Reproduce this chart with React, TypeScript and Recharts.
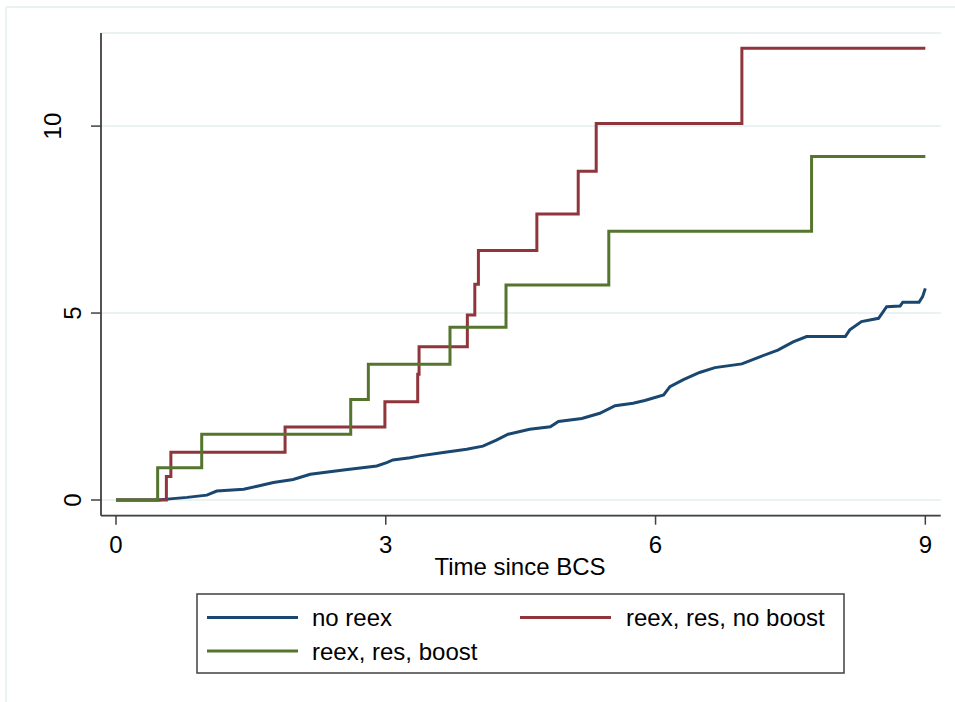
import React from 'react';
import { LineChart, Line, XAxis, YAxis, CartesianGrid } from 'recharts';

const FONT = '"Liberation Sans", Arial, Helvetica, sans-serif';

const seriesNames = ['no reex', 'reex, res, no boost', 'reex, res, boost'];
const seriesColors = ['#1a476f', '#90353b', '#55752f'];
const xTicks = [0, 3, 6, 9];
const yTicks = [0, 5, 10];
const xTitle = 'Time since BCS';

const noReex = [
  { t: 0, v: 0 }, { t: 0.47, v: 0 }, { t: 0.6, v: 0.03 }, { t: 0.79, v: 0.07 },
  { t: 1.01, v: 0.13 }, { t: 1.12, v: 0.24 }, { t: 1.42, v: 0.29 }, { t: 1.57, v: 0.37 },
  { t: 1.75, v: 0.47 }, { t: 1.97, v: 0.55 }, { t: 2.16, v: 0.69 }, { t: 2.53, v: 0.8 },
  { t: 2.9, v: 0.91 }, { t: 3.01, v: 1.0 }, { t: 3.08, v: 1.07 }, { t: 3.27, v: 1.13 },
  { t: 3.38, v: 1.18 }, { t: 3.64, v: 1.27 }, { t: 3.9, v: 1.36 }, { t: 4.08, v: 1.44 },
  { t: 4.23, v: 1.6 }, { t: 4.36, v: 1.76 }, { t: 4.6, v: 1.89 }, { t: 4.83, v: 1.96 },
  { t: 4.92, v: 2.1 }, { t: 5.18, v: 2.18 }, { t: 5.38, v: 2.32 }, { t: 5.55, v: 2.52 },
  { t: 5.75, v: 2.59 }, { t: 5.88, v: 2.66 }, { t: 6.09, v: 2.81 }, { t: 6.16, v: 3.03 },
  { t: 6.31, v: 3.22 }, { t: 6.49, v: 3.41 }, { t: 6.66, v: 3.54 }, { t: 6.96, v: 3.64 },
  { t: 7.16, v: 3.83 }, { t: 7.36, v: 4.01 }, { t: 7.53, v: 4.23 }, { t: 7.68, v: 4.37 },
  { t: 8.11, v: 4.37 }, { t: 8.16, v: 4.55 }, { t: 8.29, v: 4.77 }, { t: 8.48, v: 4.86 },
  { t: 8.57, v: 5.17 }, { t: 8.72, v: 5.19 }, { t: 8.75, v: 5.29 }, { t: 8.93, v: 5.29 },
  { t: 8.97, v: 5.44 }, { t: 9.0, v: 5.66 },
];

const reexNoBoost = [
  { t: 0, v: 0 }, { t: 0.56, v: 0.63 }, { t: 0.61, v: 1.28 }, { t: 1.88, v: 1.95 },
  { t: 2.99, v: 2.63 }, { t: 3.355, v: 3.36 }, { t: 3.37, v: 4.1 }, { t: 3.907, v: 4.95 },
  { t: 3.99, v: 5.77 }, { t: 4.03, v: 6.67 }, { t: 4.68, v: 7.65 }, { t: 5.14, v: 8.79 },
  { t: 5.34, v: 10.07 }, { t: 6.96, v: 12.08 }, { t: 9.0, v: 12.08 },
];

const reexBoost = [
  { t: 0, v: 0 }, { t: 0.463, v: 0.86 }, { t: 0.953, v: 1.76 }, { t: 2.61, v: 2.69 },
  { t: 2.806, v: 3.63 }, { t: 3.714, v: 4.62 }, { t: 4.337, v: 5.75 }, { t: 5.48, v: 7.19 },
  { t: 7.735, v: 9.19 }, { t: 9.0, v: 9.19 },
];

const AXIS = '#404040';

const XTick = (props: any) => {
  const { x, payload } = props;
  return (
    <text x={x} y={553} textAnchor="middle" fontSize={24} fontFamily={FONT} fill="#000">
      {payload.value}
    </text>
  );
};

const YTick = (props: any) => {
  const { y, payload } = props;
  const s = String(payload.value);
  const bx = 81.5 - (s.length - 1) * 20;
  return (
    <text
      x={bx}
      y={y}
      transform={`rotate(-90, ${bx}, ${y})`}
      textAnchor="middle"
      fontSize={24}
      fontFamily={FONT}
      fill="#000"
    >
      {s}
    </text>
  );
};

export default function App() {
  const legendItems = [
    { name: seriesNames[0], color: seriesColors[0], lx: 207, tx: 312, y: 617.5 },
    { name: seriesNames[1], color: seriesColors[1], lx: 520, tx: 626, y: 617.5 },
    { name: seriesNames[2], color: seriesColors[2], lx: 207, tx: 312, y: 651 },
  ];
  return (
    <div style={{ position: 'absolute', left: 0, top: 0, width: 955, height: 702, background: '#fff' }}>
      <LineChart
        width={955}
        height={702}
        data={noReex}
        margin={{ top: 33, right: 14.3, bottom: 146.3, left: 0 }}
      >
        <CartesianGrid vertical={false} stroke="#eaf2f3" strokeWidth={2} />
        <XAxis
          type="number"
          dataKey="t"
          domain={[-0.167, 9.171]}
          ticks={xTicks}
          height={40}
          tick={<XTick />}
          tickSize={9}
          tickLine={{ stroke: AXIS, strokeWidth: 1.5 }}
          axisLine={{ stroke: AXIS, strokeWidth: 1.8 }}
          allowDataOverflow
          label={() => (
            <text x={520} y={575} textAnchor="middle" fontSize={24} fontFamily={FONT} fill="#000">
              {xTitle}
            </text>
          )}
        />
        <YAxis
          type="number"
          domain={[-0.42, 12.49]}
          ticks={yTicks}
          width={101}
          tick={<YTick />}
          tickSize={10}
          tickLine={{ stroke: AXIS, strokeWidth: 1.5 }}
          axisLine={{ stroke: AXIS, strokeWidth: 1.8 }}
          allowDataOverflow
        />
        <Line
          data={noReex}
          dataKey="v"
          type="linear"
          stroke={seriesColors[0]}
          strokeWidth={3}
          dot={false}
          isAnimationActive={false}
          name={seriesNames[0]}
        />
        <Line
          data={reexNoBoost}
          dataKey="v"
          type="stepAfter"
          stroke={seriesColors[1]}
          strokeWidth={3}
          dot={false}
          isAnimationActive={false}
          name={seriesNames[1]}
        />
        <Line
          data={reexBoost}
          dataKey="v"
          type="stepAfter"
          stroke={seriesColors[2]}
          strokeWidth={3}
          dot={false}
          isAnimationActive={false}
          name={seriesNames[2]}
        />
      </LineChart>
      <svg
        width={955}
        height={702}
        style={{ position: 'absolute', left: 0, top: 0, pointerEvents: 'none' }}
      >
        <line x1={6} y1={7} x2={955} y2={7} stroke="#eaf2f3" strokeWidth={2} />
        <line x1={6} y1={7} x2={6} y2={702} stroke="#eaf2f3" strokeWidth={2} />
        <rect x={197} y={594} width={647} height={79} fill="#fff" stroke={AXIS} strokeWidth={1.5} />
        {legendItems.map((it) => (
          <g key={it.name}>
            <line x1={it.lx} y1={it.y} x2={it.lx + 91} y2={it.y} stroke={it.color} strokeWidth={3} />
            <text x={it.tx} y={it.y + 8.5} fontSize={24} fontFamily={FONT} fill="#000">
              {it.name}
            </text>
          </g>
        ))}
      </svg>
    </div>
  );
}
